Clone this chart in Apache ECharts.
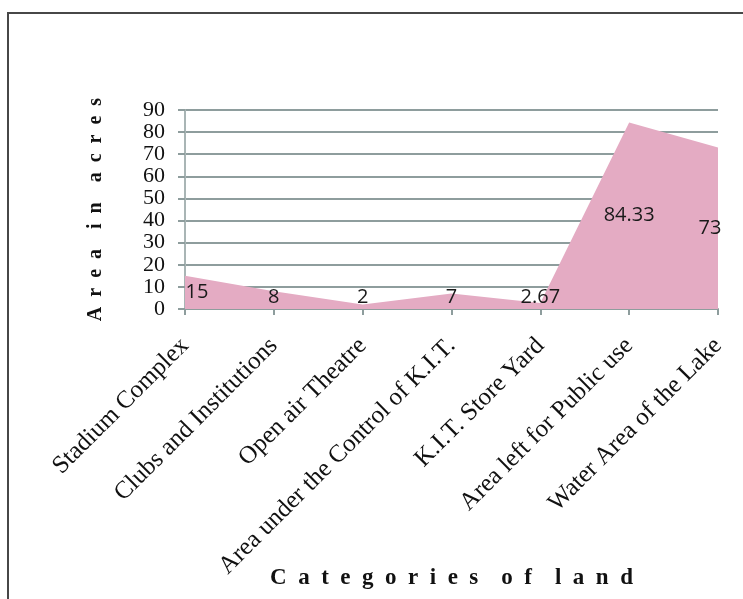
<!DOCTYPE html>
<html>
<head>
<meta charset="utf-8">
<script src="https://cdn.jsdelivr.net/npm/echarts@6/dist/echarts.min.js"></script>
<style>
	html, body { margin: 0; padding: 0; background: #fff; }
	#main { width: 743px; height: 599px; }
</style>
</head>
<body>
<div id="main"></div>
<script>
// 土地类别
var categories = [
	"Stadium Complex",
	"Clubs and Institutions",
	"Open air Theatre",
	"Area under the Control of K.I.T.",
	"K.I.T. Store Yard",
	"Area left for Public use",
	"Water Area of the Lake"
]
// 面积 (acres)
var areaValues = [15, 8, 2, 7, 2.67, 84.33, 73]
var yTicks = [0, 10, 20, 30, 40, 50, 60, 70, 80, 90]
var xTitle = "Categories of land"
var yTitle = "Area in acres"

var serif = '"Liberation Serif", "DejaVu Serif", serif'
var gridColor = "#8e9d9d"

//字母之间加空格
function spaced(text) {
	return text.split(" ").map(function(w) {
		return w.split("").join("\u2002")
	}).join("\u2002\u2002")
}

var chart = echarts.init(document.getElementById("main"))

let option = {
	animation: false,
	backgroundColor: "#fff",
	grid: {
		left: 185,
		right: 25,
		top: 110,
		bottom: 290,
		containLabel: false,
		outerBoundsMode: "none"
	},
	graphic: [{
		type: "rect",
		shape: { x: 8, y: 13, width: 800, height: 700 },
		style: { fill: "none", stroke: "#474747", lineWidth: 2 },
		silent: true
	}],
	xAxis: {
		type: "category",
		data: categories,
		boundaryGap: false,
		name: spaced(xTitle),
		nameLocation: "middle",
		nameGap: 258,
		nameMoveOverlap: false,
		nameTextStyle: {
			fontFamily: serif,
			fontWeight: "bold",
			fontSize: 23,
			color: "#111"
		},
		axisLine: { lineStyle: { color: gridColor, width: 2 } },
		axisTick: { show: true, length: 6, alignWithLabel: true, lineStyle: { color: gridColor, width: 2 } },
		axisLabel: {
			rotate: 45,
			interval: 0,
			margin: 33,
			hideOverlap: false,
			fontFamily: serif,
			fontSize: 25,
			color: "#111"
		}
	},
	yAxis: {
		type: "value",
		min: yTicks[0],
		max: yTicks[yTicks.length - 1],
		interval: 10,
		name: spaced(yTitle),
		nameLocation: "middle",
		nameGap: 79,
		nameMoveOverlap: false,
		nameTextStyle: {
			fontFamily: serif,
			fontWeight: "bold",
			fontSize: 20,
			color: "#111"
		},
		axisLine: { show: true, lineStyle: { color: "#a9b5b5", width: 2 } },
		axisTick: { show: true, length: 7, lineStyle: { color: gridColor, width: 2 } },
		splitLine: { show: true, lineStyle: { color: gridColor, width: 2 } },
		axisLabel: {
			margin: 20,
			showMinLabel: true,
			showMaxLabel: true,
			hideOverlap: false,
			fontFamily: serif,
			fontSize: 22,
			lineHeight: 18,
			color: "#111"
		}
	},
	series: [{
		type: "line",
		data: areaValues,
		symbol: "circle",
		symbolSize: 1,
		showSymbol: true,
		itemStyle: { opacity: 0 },
		lineStyle: { width: 0 },
		areaStyle: { color: "#e4abc3", opacity: 1 },
		z: 3
	}]
}

chart.setOption(option)

//标签放在面积中间
var zeroY = chart.convertToPixel({ yAxisIndex: 0 }, 0)
var labelData = areaValues.map(function(v, i) {
	var topY = chart.convertToPixel({ yAxisIndex: 0 }, v)
	var centerY = Math.min((topY + zeroY) / 2, zeroY - 12)
	var dx = 0
	if (i == 0) dx = 12
	if (i == areaValues.length - 1) dx = -8
	return {
		value: v,
		label: {
			show: true,
			position: "inside",
			offset: [dx, centerY - topY],
			fontFamily: '"Open Sans", "Noto Sans", sans-serif',
			fontSize: 20,
			color: "#1a1a1a",
			opacity: 1,
			formatter: function(p) { return p.value }
		}
	}
})

chart.setOption({
	series: [{
		data: labelData
	}]
})
</script>
</body>
</html>
